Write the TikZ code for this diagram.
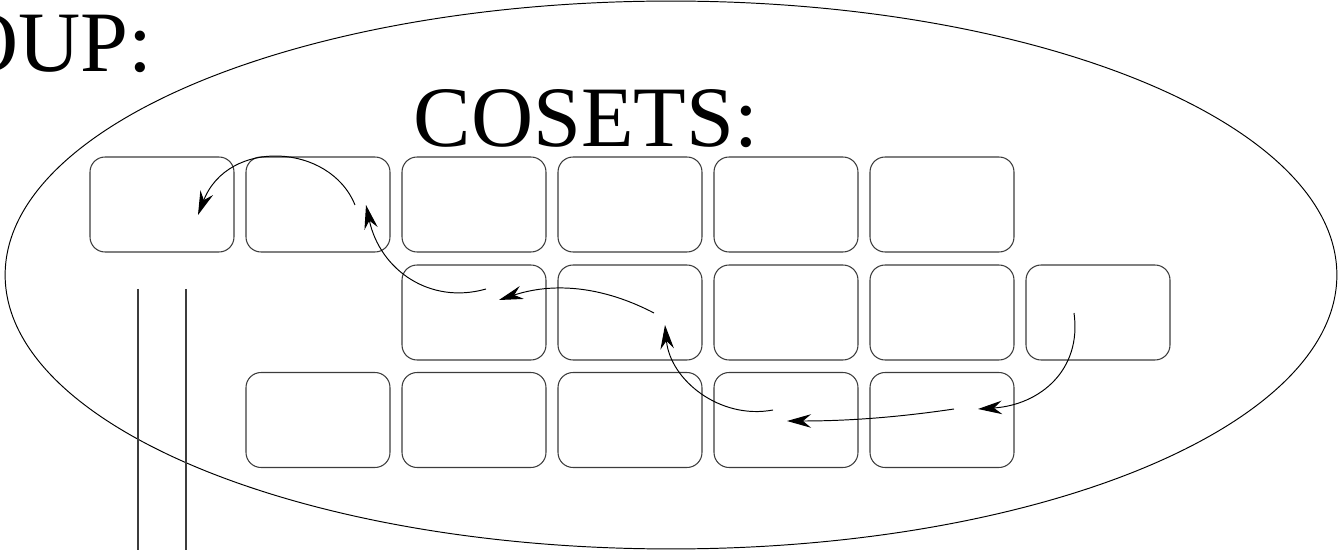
\documentclass[tikz,border=0pt]{standalone}
\usepackage{fontspec}
\setmainfont{Liberation Serif}
\usepackage{tikz}
\usetikzlibrary{arrows.meta}
\definecolor{cosLine}{RGB}{60,60,60}
\newcommand{\bigtxt}{\fontsize{49}{58}\selectfont}

\begin{document}
\begin{tikzpicture}[x=0.02cm,y=-0.02cm,
  coset/.style={draw=cosLine,line width=0.6pt,rounded corners=0.3cm,inner sep=0pt,minimum width=2.88cm,minimum height=1.9cm},
  lbl/.style={inner sep=0pt,font=\bigtxt},
  mv/.style={-{Stealth[length=4.8mm,width=2.7mm,inset=1.6mm]},line width=0.55pt}]
\useasboundingbox (0,0) rectangle (1339,550);
\clip (0,0) rectangle (1339,550);

\draw[line width=0.55pt] (671,275) ellipse [x radius=13.32cm,y radius=5.48cm];

\node[lbl,anchor=base east] (grp) at (153,72) {GROUP:};
\node[lbl,anchor=base] (cos) at (586,147) {COSETS:};

% first row
\node[coset] (b11) at (162,204.5) {};
\node[coset] (b12) at (318,204.5) {};
\node[coset] (b13) at (474,204.5) {};
\node[coset] (b14) at (630,204.5) {};
\node[coset] (b15) at (786,204.5) {};
\node[coset] (b16) at (942,204.5) {};
% second row
\node[coset] (b23) at (474,312.5) {};
\node[coset] (b24) at (630,312.5) {};
\node[coset] (b25) at (786,312.5) {};
\node[coset] (b26) at (942,312.5) {};
\node[coset] (b27) at (1098,312.5) {};
% third row
\node[coset] (b32) at (318,420) {};
\node[coset] (b33) at (474,420) {};
\node[coset] (b34) at (630,420) {};
\node[coset] (b35) at (786,420) {};
\node[coset] (b36) at (942,420) {};

% ends of the moves
\coordinate (m0) at (1074,313);
\coordinate (m1) at (978,409);  \coordinate (m1s) at (954,409);
\coordinate (m2) at (787,421);  \coordinate (m2s) at (773,410);
\coordinate (m3) at (665,325);  \coordinate (m3s) at (654,313);
\coordinate (m4) at (499,300);  \coordinate (m4s) at (486,289);
\coordinate (m5) at (366,205);  \coordinate (m5s) at (355,205);
\coordinate (m6) at (198,215);

\draw[mv] (m0) .. controls (1082,370) and (1040,405) .. (m1);
\draw[mv] (m1s) .. controls (900,417) and (850,421) .. (m2);
\draw[mv] (m2s) .. controls (720,420) and (670,380) .. (m3);
\draw[mv] (m3s) .. controls (610,290) and (560,280) .. (m4);
\draw[mv] (m4s) .. controls (430,305) and (380,270) .. (m5);
\draw[mv] (m5s) .. controls (330,143) and (228,138) .. (m6);

\draw[draw=cosLine,line width=0.6pt] (138,289) -- (138,550);
\draw[draw=cosLine,line width=0.6pt] (186,289) -- (186,550);
\end{tikzpicture}
\end{document}
